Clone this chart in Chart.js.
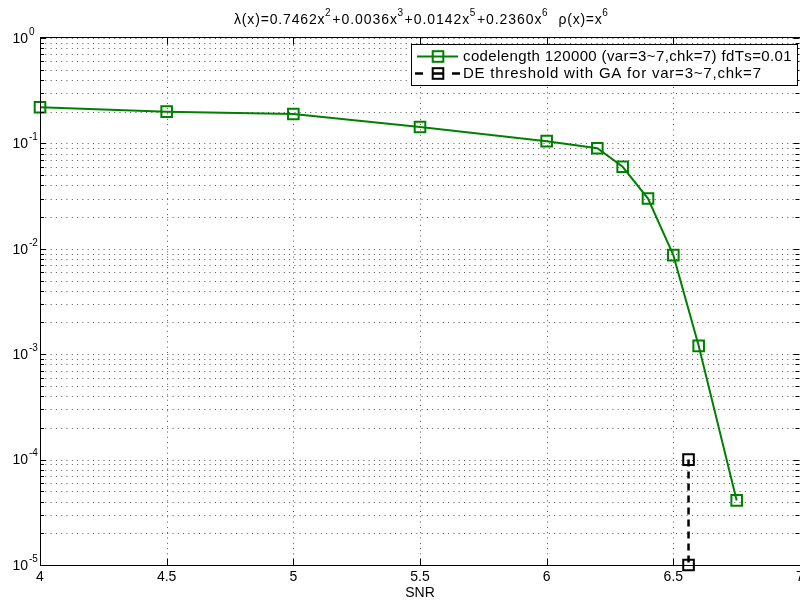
<!DOCTYPE html>
<html>
<head>
<meta charset="utf-8">
<script src="https://cdn.jsdelivr.net/npm/chart.js@4"></script>
<style>
  html, body { margin: 0; padding: 0; background: #fff; }
  #wrap { width: 800px; height: 604px; }
</style>
</head>
<body>
<div id="wrap"><canvas id="c" width="800" height="604"></canvas></div>
<script>
// Simulated error rate of the length-120000 code versus SNR
const snr = [4, 4.5, 5, 5.5, 6, 6.2, 6.3, 6.4, 6.5, 6.6, 6.75];
const errorRate = [0.22, 0.2, 0.19, 0.143, 0.105, 0.09, 0.06, 0.03, 0.0087, 0.0012, 4.1e-5];

// Density-evolution threshold (Gaussian approximation), drawn as a vertical marker pair
const thresholdSnr = [6.56, 6.56];
const thresholdRate = [1e-4, 1e-5];

const xTicks = [4, 4.5, 5, 5.5, 6, 6.5, 7];
const xTickLabels = ['4', '4.5', '5', '5.5', '6', '6.5', '7'];
const yExponents = [0, -1, -2, -3, -4, -5];

const seriesNames = [
  'codelength 120000 (var=3~7,chk=7) fdTs=0.01',
  'DE threshold with GA for var=3~7,chk=7'
];
const titleParts = [
  ['λ(x)=0.7462x', false], ['2', true],
  ['+0.0036x', false], ['3', true],
  ['+0.0142x', false], ['5', true],
  ['+0.2360x', false], ['6', true],
  ['  ρ(x)=x', false], ['6', true]
];
const xTitle = 'SNR';

const GREEN = '#008000';
const FONT = '"Liberation Sans", Arial, Helvetica, sans-serif';

function toPoints(xs, ys) { return xs.map((v, i) => ({ x: v, y: ys[i] })); }

// Draw text character by character with extra spacing so it spans a given width
function spacedText(ctx, text, x, y, targetWidth) {
  const natural = ctx.measureText(text).width;
  const extra = targetWidth && text.length > 1 ? (targetWidth - natural) / (text.length - 1) : 0;
  let cx = x;
  for (const ch of text) {
    ctx.fillText(ch, cx, y);
    cx += ctx.measureText(ch).width + extra;
  }
  return cx - extra;
}

function squareMarker(ctx, x, y, color) {
  ctx.save();
  ctx.setLineDash([]);
  ctx.strokeStyle = color;
  ctx.lineWidth = 2;
  const s = 5.3;
  ctx.strokeRect(x - s, y - s, 2 * s, 2 * s);
  ctx.restore();
}

const axesDecor = {
  id: 'axesDecor',
  beforeDatasetsDraw(chart) {
    const { ctx, chartArea: a, scales: { x, y } } = chart;
    ctx.save();
    ctx.strokeStyle = '#555';
    ctx.lineWidth = 1;
    ctx.setLineDash([1, 4.3]);
    // vertical dotted grid
    xTicks.forEach(v => {
      if (v <= x.min || v >= x.max) return;
      const px = Math.round(x.getPixelForValue(v)) + 0.5;
      ctx.beginPath(); ctx.moveTo(px, a.bottom); ctx.lineTo(px, a.top); ctx.stroke();
    });
    // horizontal dotted grid: every decade and its minor steps
    yExponents.forEach(e => {
      for (let m = 1; m <= 9; m++) {
        const v = m * Math.pow(10, e);
        if (v > y.max * 1.0001 || v < y.min * 0.9999) continue;
        const py = Math.round(y.getPixelForValue(v)) + 0.5;
        ctx.beginPath(); ctx.moveTo(a.left, py); ctx.lineTo(a.right, py); ctx.stroke();
      }
    });
    ctx.restore();
  },
  afterDatasetsDraw(chart) {
    const { ctx, chartArea: a, scales: { x, y } } = chart;
    ctx.save();
    ctx.setLineDash([]);
    ctx.strokeStyle = '#000';
    ctx.lineWidth = 1;
    const L = a.left + 0.5, B = a.bottom + 0.5, T = a.top - 0.5, R = a.right - 0.5;
    ctx.beginPath();
    ctx.moveTo(L, T); ctx.lineTo(L, B);
    ctx.moveTo(a.left, B); ctx.lineTo(a.right, B);
    ctx.moveTo(a.left, T); ctx.lineTo(a.right, T);
    ctx.stroke();

    // inward tick marks
    ctx.beginPath();
    xTicks.forEach(v => {
      const px = Math.round(x.getPixelForValue(v)) + 0.5;
      ctx.moveTo(px, B); ctx.lineTo(px, B - 7);
      ctx.moveTo(px, T); ctx.lineTo(px, T + 7);
    });
    yExponents.forEach(e => {
      for (let m = 1; m <= 9; m++) {
        const v = m * Math.pow(10, e);
        if (v > y.max * 1.0001 || v < y.min * 0.9999) continue;
        const py = Math.round(y.getPixelForValue(v)) + 0.5;
        const len = m === 1 ? 6 : 4;
        ctx.moveTo(a.left, py); ctx.lineTo(a.left + len, py);
        ctx.moveTo(R, py); ctx.lineTo(R - len, py);
      }
    });
    ctx.stroke();

    // x tick labels
    ctx.fillStyle = '#000';
    ctx.font = '14px ' + FONT;
    ctx.textAlign = 'center';
    ctx.textBaseline = 'middle';
    xTicks.forEach((v, i) => {
      ctx.fillText(xTickLabels[i], x.getPixelForValue(v), a.bottom + 12);
    });

    // y tick labels as powers of ten
    yExponents.forEach(e => {
      const py = y.getPixelForValue(Math.pow(10, e));
      ctx.font = '14px ' + FONT;
      ctx.textAlign = 'right';
      ctx.fillText('10', a.left - 12, py + 1);
      ctx.font = '10px ' + FONT;
      ctx.textAlign = 'left';
      ctx.fillText(String(e), a.left - 11, py - 6);
    });

    // axis title
    ctx.font = '14px ' + FONT;
    ctx.textAlign = 'center';
    ctx.fillText(xTitle, (a.left + a.right) / 2, a.bottom + 28);

    // chart title with superscripts
    ctx.textAlign = 'left';
    ctx.textBaseline = 'alphabetic';
    const base = '14px ' + FONT, sup = '10px ' + FONT;
    let total = 0;
    titleParts.forEach(([t, s]) => { ctx.font = s ? sup : base; total += ctx.measureText(t).width; });
    const titleW = 368;
    const scale = titleW / total;
    let tx = 418 - titleW / 2;
    titleParts.forEach(([t, s]) => {
      ctx.font = s ? sup : base;
      const w = ctx.measureText(t).width * scale;
      spacedText(ctx, t, tx, s ? 16 : 24, w);
      tx += w + (s ? 1 : 0.5);
    });

    // legend
    const lx = 411.5, ly = 44.5, lw = 386, lh = 41;
    ctx.fillStyle = '#fff';
    ctx.fillRect(lx, ly, lw, lh);
    ctx.strokeStyle = '#000';
    ctx.lineWidth = 1;
    ctx.strokeRect(lx, ly, lw, lh);

    const r1 = 56.5, r2 = 73.5;
    ctx.strokeStyle = GREEN;
    ctx.lineWidth = 2;
    ctx.beginPath(); ctx.moveTo(417, r1); ctx.lineTo(458, r1); ctx.stroke();
    squareMarker(ctx, 438, r1, GREEN);

    ctx.strokeStyle = '#000';
    ctx.lineWidth = 2.5;
    ctx.beginPath();
    ctx.moveTo(415, r2); ctx.lineTo(423, r2);
    ctx.moveTo(433, r2); ctx.lineTo(443, r2);
    ctx.moveTo(452, r2); ctx.lineTo(460, r2);
    ctx.stroke();
    squareMarker(ctx, 438, r2, '#000');

    ctx.fillStyle = '#000';
    ctx.font = '15px ' + FONT;
    ctx.textBaseline = 'middle';
    spacedText(ctx, seriesNames[0], 463, r1, 327);
    spacedText(ctx, seriesNames[1], 463, r2, 298);
    ctx.restore();
  }
};

new Chart(document.getElementById('c'), {
  type: 'line',
  data: {
    datasets: [
      {
        label: seriesNames[0],
        data: toPoints(snr, errorRate),
        borderColor: GREEN,
        borderWidth: 2,
        pointStyle: 'rect',
        pointRadius: 7.5,
        pointBorderWidth: 2,
        pointBorderColor: GREEN,
        pointBackgroundColor: 'rgba(0,0,0,0)',
        tension: 0,
        clip: false
      },
      {
        label: seriesNames[1],
        data: toPoints(thresholdSnr, thresholdRate),
        borderColor: '#000',
        borderWidth: 2.5,
        borderDash: [7, 5],
        pointStyle: 'rect',
        pointRadius: 7.5,
        pointBorderWidth: 2,
        pointBorderColor: '#000',
        pointBackgroundColor: 'rgba(0,0,0,0)',
        tension: 0,
        clip: false
      }
    ]
  },
  options: {
    responsive: false,
    animation: false,
    devicePixelRatio: 1,
    layout: { autoPadding: false, padding: { left: 40, top: 38, right: 0, bottom: 39 } },
    scales: {
      x: { type: 'linear', min: 4, max: 7, display: false },
      y: { type: 'logarithmic', min: 1e-5, max: 1, display: false }
    },
    plugins: { legend: { display: false }, tooltip: { enabled: false } }
  },
  plugins: [axesDecor]
});
</script>
</body>
</html>
